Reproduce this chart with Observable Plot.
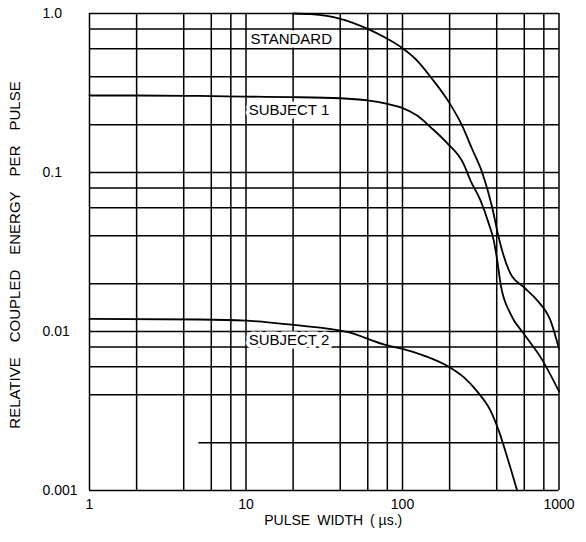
<!DOCTYPE html>
<html>
<head>
<meta charset="utf-8">
<script src="https://cdn.jsdelivr.net/npm/d3@7"></script>
<script src="https://cdn.jsdelivr.net/npm/@observablehq/plot@0.6"></script>
<style>
  html, body { margin: 0; padding: 0; background: white; }
</style>
</head>
<body>
<div id="chart"></div>
<script>
// Grid lines (irregular hand-drawn log grid)
const xGrid = [1, 2, 4, 6, 8, 10, 20, 40, 60, 80, 100, 200, 400, 600, 800, 1000];
const yGrid = [0.001, 0.004, 0.006, 0.008, 0.01, 0.02, 0.04, 0.06, 0.08, 0.1, 0.2, 0.4, 0.6, 0.8, 1];
const yGridPartial = [0.002];
const yGridPartialStart = [5];

// Tick labels
const xTicks = [1, 10, 100, 1000];
const xTickLabels = ["1", "10", "100", "1000"];
const yTicks = [1, 0.1, 0.01, 0.001];
const yTickLabels = ["1.0", "0.1", "0.01", "0.001"];

// Series
const standardX = [20, 26, 40, 60, 80, 98, 124, 151, 198, 240, 279, 323, 374, 412, 433, 490, 596, 726, 883, 1000];
const standardY = [1.0, 0.99, 0.926, 0.80, 0.693, 0.614, 0.506, 0.40, 0.277, 0.198, 0.14, 0.1, 0.0605, 0.039, 0.0323, 0.0231, 0.019, 0.0157, 0.0117, 0.0078];

const subject1X = [1, 2, 5, 10, 19.3, 40, 59.5, 80, 97.6, 124, 151, 193, 246, 272, 315, 356, 383, 403, 423, 490, 596, 762, 1000];
const subject1Y = [0.305, 0.305, 0.303, 0.30, 0.298, 0.293, 0.284, 0.270, 0.257, 0.228, 0.193, 0.153, 0.113, 0.089, 0.0667, 0.0476, 0.0373, 0.028, 0.02, 0.0129, 0.00967, 0.0069, 0.0042];

const subject2X = [1, 5, 10, 20, 45, 80, 100, 137, 200, 246, 300, 365, 412, 467, 540];
const subject2Y = [0.012, 0.0119, 0.0117, 0.0110, 0.0099, 0.00817, 0.00778, 0.00706, 0.00596, 0.00516, 0.0042, 0.00318, 0.00238, 0.00162, 0.00100];

// Curve labels
const labelText = ["STANDARD", "SUBJECT 1", "SUBJECT 2"];
const labelX = [10.7, 10.4, 10.4];
const labelY = [0.686, 0.245, 0.00878];

const xTitle = "PULSE\u2002WIDTH\u2002( \u00b5s.)";
const yTitle = "RELATIVE\u2003COUPLED\u2003ENERGY\u2003PER\u2003PULSE";

const series = [
  ...standardX.map((x, i) => ({x, y: standardY[i], s: "standard"})),
  ...subject1X.map((x, i) => ({x, y: subject1Y[i], s: "subject1"})),
  ...subject2X.map((x, i) => ({x, y: subject2Y[i], s: "subject2"}))
];
const labels = labelText.map((t, i) => ({t, x: labelX[i], y: labelY[i]}));
const partial = yGridPartial.map((y, i) => ({y, x1: yGridPartialStart[i], x2: 1000}));

const chart = Plot.plot({
  width: 586,
  height: 542,
  marginLeft: 89,
  marginRight: 27.5,
  marginTop: 13,
  marginBottom: 52,
  style: {fontFamily: "'Liberation Sans', Arial, sans-serif", fontSize: "14px", background: "white", color: "black"},
  x: {type: "log", domain: [1, 1000]},
  y: {type: "log", domain: [0.001, 1]},
  marks: [
    Plot.ruleX(xGrid, {stroke: "black", strokeWidth: 1.5}),
    Plot.ruleY(yGrid, {stroke: "black", strokeWidth: 1.5}),
    Plot.ruleY(partial, {y: "y", x1: "x1", x2: "x2", stroke: "black", strokeWidth: 1.5}),
    Plot.line(series, {x: "x", y: "y", z: "s", curve: "monotone-x", stroke: "black", strokeWidth: 1.8}),
    Plot.text(labels, {x: "x", y: "y", text: "t", textAnchor: "start", fontSize: 15, fill: "black", stroke: "white", strokeWidth: 7}),
    Plot.axisX(xTicks, {tickSize: 0, tickPadding: 9, tickFormat: (d) => xTickLabels[xTicks.indexOf(d)], label: null, fontSize: 14}),
    Plot.axisY(yTicks, {tickSize: 0, tickPadding: 47, textAnchor: "start", tickFormat: (d) => yTickLabels[yTicks.indexOf(d)], label: null, fontSize: 14}),
    Plot.text([xTitle], {frameAnchor: "bottom", dx: 9, dy: 34, fontSize: 14}),
    Plot.text([yTitle], {frameAnchor: "left", textAnchor: "middle", rotate: -90, dx: -74, dy: 3, fontSize: 15})
  ]
});
document.getElementById("chart").appendChild(chart);
</script>
</body>
</html>
